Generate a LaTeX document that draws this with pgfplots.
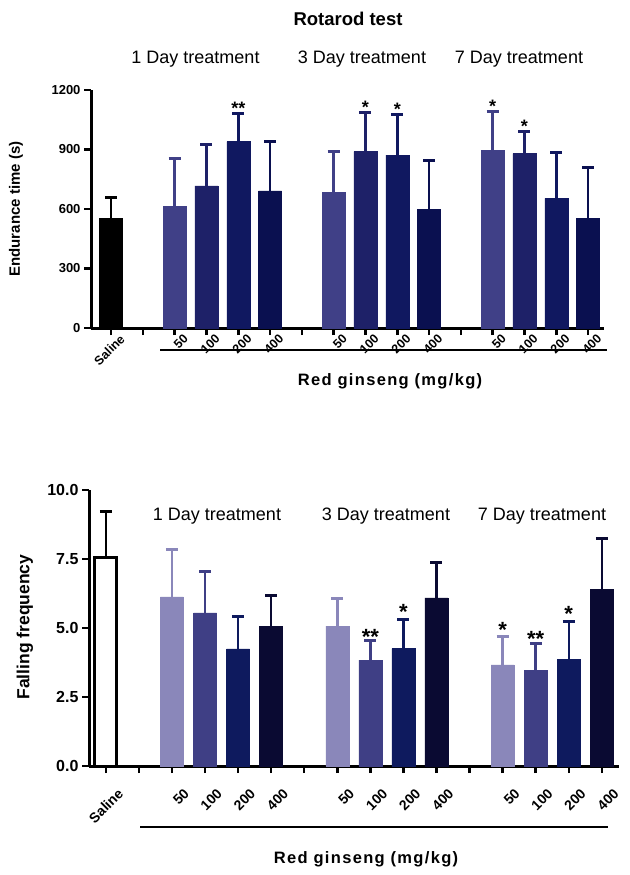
\documentclass[border=0pt]{standalone}
\usepackage{fontspec}
\setmainfont{Liberation Sans}
\usepackage{pgfplots}
\pgfplotsset{compat=1.18}
\definecolor{tA}{RGB}{64,64,135}
\definecolor{tB}{RGB}{30,33,104}
\definecolor{tC}{RGB}{16,24,96}
\definecolor{tD}{RGB}{10,16,80}
\definecolor{bA}{RGB}{138,135,186}
\definecolor{bB}{RGB}{63,63,133}
\definecolor{bC}{RGB}{14,26,94}
\definecolor{bD}{RGB}{10,10,50}
\pgfplotsset{
  gp/.style={
    scale only axis, clip=false,
    axis x line*=bottom, axis y line*=left,
    axis line style={-, line width=3pt},
    tick align=outside, major tick length=7pt,
    tick style={line width=2.5pt, black},
    xtick={0,...,15}, ymin=0,
    xticklabels={Saline,,50,100,200,400,,50,100,200,400,,50,100,200,400},
    /pgf/number format/assume math mode=true,
    /pgf/number format/1000 sep={},
  },
  eb/.style={ybar, bar width=23pt, bar shift=0pt, fill=#1, draw=#1, line width=0.5pt,
    error bars/.cd, y dir=plus, y explicit, error mark=|,
    error bar style={line width=2.5pt, color=#1},
    error mark options={line width=3pt, mark size=6pt, color=#1}},
}
\tikzset{
  st/.style={anchor=base, inner sep=0pt, font=\bfseries\fontsize{18}{18}\selectfont},
  sb/.style={anchor=base, inner sep=0pt, font=\bfseries\fontsize{22}{22}\selectfont},
}
\begin{document}
\begin{tikzpicture}[x=1pt,y=1pt]
\useasboundingbox (0,0) rectangle (629,-875);
% ---------- top chart ----------
\begin{axis}[gp, at={(91pt,-328pt)}, anchor=south west,
  width=513pt, height=238pt, xmin=-0.63, xmax=15.5, ymax=1200,
  ytick={0,300,600,900,1200},
  yticklabel style={font=\bfseries\fontsize{13}{13}\selectfont},
  xticklabel style={xshift=8pt, yshift=3pt, rotate=45, anchor=north east, inner sep=1pt,
    font=\bfseries\fontsize{12.5}{12.5}\selectfont},
]
\addplot[eb=black] coordinates {(0,553) +- (0,104)};
\addplot[eb=tA] coordinates {(2,615) +- (0,242) (7,682) +- (0,210) (12,897) +- (0,194)};
\addplot[eb=tB] coordinates {(3,716) +- (0,210) (8,889) +- (0,200) (13,879) +- (0,113)};
\addplot[eb=tC] coordinates {(4,940) +- (0,143) (9,872) +- (0,207) (14,654) +- (0,232)};
\addplot[eb=tD] coordinates {(5,691) +- (0,247) (10,600) +- (0,245) (15,551) +- (0,259)};
\node[st, yshift=-1pt] at (axis cs:4,1083) {**};
\node[st, yshift=-1pt] at (axis cs:8,1089) {*};
\node[st, yshift=-1pt] at (axis cs:9,1079) {*};
\node[st, yshift=-1pt] at (axis cs:12,1091) {*};
\node[st, yshift=-1pt] at (axis cs:13,992) {*};
\end{axis}
% ---------- bottom chart ----------
\begin{axis}[gp, at={(89pt,-766pt)}, anchor=south west,
  width=530pt, height=276pt, xmin=-0.51, xmax=15.52, ymax=10,
  ytick={0,2.5,5,7.5,10},
  /pgf/number format/.cd, fixed, fixed zerofill, precision=1, /pgfplots/.cd,
  yticklabel style={font=\bfseries\fontsize{16}{16}\selectfont},
  xticklabel style={xshift=11pt, yshift=-13pt, rotate=45, anchor=north east, inner sep=1pt,
    font=\bfseries\fontsize{14}{14}\selectfont},
]
\addplot[ybar, bar width=22pt, bar shift=0pt, fill=white, draw=black, line width=3pt,
  error bars/.cd, y dir=plus, y explicit, error mark=|,
  error bar style={line width=2.5pt, color=black},
  error mark options={line width=3pt, mark size=6pt, color=black}]
  coordinates {(0,7.55) +- (0,1.68)};
\addplot[eb=bA] coordinates {(2,6.13) +- (0,1.70) (7,5.07) +- (0,0.99) (12,3.66) +- (0,1.02)};
\addplot[eb=bB] coordinates {(3,5.55) +- (0,1.49) (8,3.84) +- (0,0.69) (13,3.47) +- (0,0.97)};
\addplot[eb=bC] coordinates {(4,4.24) +- (0,1.17) (9,4.25) +- (0,1.05) (14,3.85) +- (0,1.38)};
\addplot[eb=bD] coordinates {(5,5.06) +- (0,1.10) (10,6.09) +- (0,1.28) (15,6.39) +- (0,1.87)};
\node[sb, yshift=-4pt] at (axis cs:8,4.53) {**};
\node[sb] at (axis cs:9,5.30) {*};
\node[sb, yshift=-1pt] at (axis cs:12,4.68) {*};
\node[sb, yshift=-3pt] at (axis cs:13,4.44) {**};
\node[sb] at (axis cs:14,5.23) {*};
\end{axis}
% ---------- texts ----------
\node[font=\bfseries\fontsize{18.5}{18.5}\selectfont] at (348,-19) {Rotarod test};
\begin{scope}[every node/.style={font=\fontsize{18}{18}\selectfont}]
\node at (195.5,-59) {1 Day treatment};
\node at (362,-59) {3 Day treatment};
\node at (519,-59) {7 Day treatment};
\node at (217,-516) {1 Day treatment};
\node at (386,-516) {3 Day treatment};
\node at (542,-516) {7 Day treatment};
\end{scope}
\draw[line width=1.5pt] (160,-350) -- (607,-350);
\draw[line width=1.5pt] (140,-827) -- (608,-827);
\node[font=\bfseries\fontsize{16.5}{16.5}\selectfont\addfontfeature{LetterSpace=8}] at (390,-381) {Red ginseng (mg/kg)};
\node[font=\bfseries\fontsize{16.5}{16.5}\selectfont\addfontfeature{LetterSpace=8}] at (366,-859) {Red ginseng (mg/kg)};
\node[rotate=90, font=\bfseries\fontsize{15}{15}\selectfont] at (16,-209) {Endurance time (s)};
\node[rotate=90, font=\bfseries\fontsize{17.5}{17.5}\selectfont] at (25,-627) {Falling frequency};
\end{tikzpicture}
\end{document}
